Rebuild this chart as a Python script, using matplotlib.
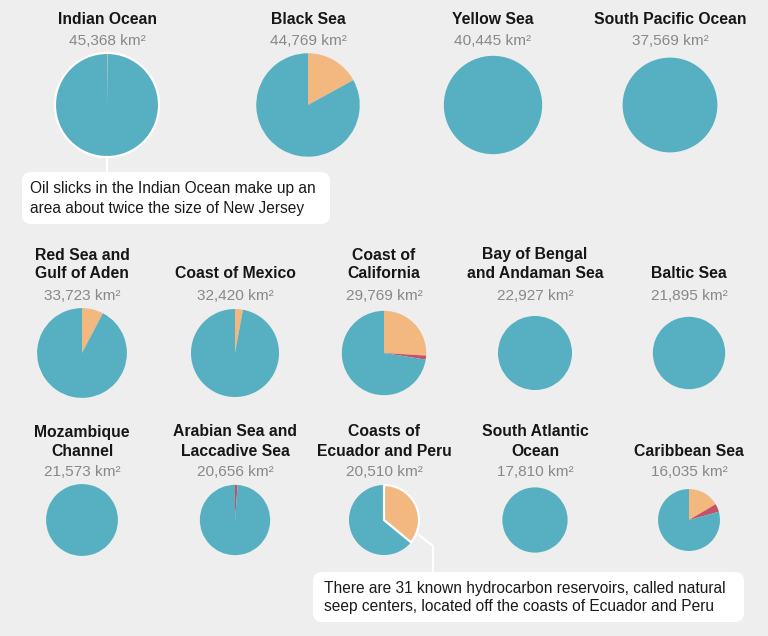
"""
Oil slick area by sea region, drawn as pies sized by total slick area.
"""

import matplotlib
matplotlib.use("Agg")
import matplotlib.pyplot as plt
from matplotlib.patches import FancyBboxPatch, Circle
import numpy as np

W, H = 768, 636

regions = [
    "Indian Ocean", "Black Sea", "Yellow Sea", "South Pacific Ocean",
    "Red Sea and\nGulf of Aden", "Coast of Mexico", "Coast of\nCalifornia",
    "Bay of Bengal\nand Andaman Sea", "Baltic Sea",
    "Mozambique\nChannel", "Arabian Sea and\nLaccadive Sea",
    "Coasts of\nEcuador and Peru", "South Atlantic\nOcean", "Caribbean Sea",
]
area_km2 = [45368, 44769, 40445, 37569,
            33723, 32420, 29769, 22927, 21895,
            21573, 20656, 20510, 17810, 16035]
# share of slick area in percent (the rest is from vessels)
seep_pct = [0.2, 17.0, 0, 0, 7.7, 2.9, 26.0, 0, 0, 0, 0, 36.0, 0, 16.5]
platform_pct = [0, 0, 0, 0, 0, 0, 1.5, 0, 0, 0, 1.2, 0, 0, 4.2]

TEAL = "#57b0c2"
ORANGE = "#f2b87f"
RED = "#c4506b"
BG = "#eeeeee"

# layout (pixel units, y from the top)
row_x = [[107, 308, 493, 670],
         [82, 235, 384, 535, 689],
         [82, 235, 384, 535, 689]]
row_pie_y = [105, 353, 520]
row_title_y = [19, 274, 451]   # centre of the last title line
row_area_y = [41, 296, 472]
scale = 0.2445                 # radius px per sqrt(km2)

fig = plt.figure(figsize=(W / 100, H / 100), dpi=100, facecolor=BG)
ax = fig.add_axes([0, 0, 1, 1])
ax.set_facecolor(BG)

def Y(y):
    return H - y

title_font = dict(family="Liberation Sans", fontsize=11.3, fontweight="bold",
                  color="#161616", ha="center", va="center")
area_font = dict(family="Liberation Sans", fontsize=11.1, color="#888888",
                 ha="center", va="center")
note_font = dict(family="Liberation Sans", fontsize=11.2, color="#1a1a1a",
                 ha="left", va="center")

i = 0
for r, xs in enumerate(row_x):
    for x in xs:
        seep, plat = seep_pct[i], platform_pct[i]
        vals = [seep, plat, 100 - seep - plat]
        rad = scale * np.sqrt(area_km2[i])
        wedges, _ = ax.pie(vals, colors=[ORANGE, RED, TEAL], startangle=90,
                           counterclock=False, radius=rad,
                           center=(x, Y(row_pie_y[r])),
                           wedgeprops=dict(linewidth=0))
        if regions[i] == "Indian Ocean":
            ax.add_patch(Circle((x, Y(row_pie_y[r])), rad, fill=False,
                                ec="white", lw=1.6, zorder=3))
        if regions[i].startswith("Coasts of"):
            wedges[0].set_edgecolor("white")
            wedges[0].set_linewidth(1.6)
            wedges[0].set_zorder(3)

        lines = regions[i].split("\n")
        for k, line in enumerate(reversed(lines)):
            ax.text(x, Y(row_title_y[r] - 19 * k), line, **title_font)
        ax.text(x, Y(row_area_y[r]), f"{area_km2[i]:,} km²", **area_font)
        i += 1

# callouts
ax.plot([107, 107], [Y(157), Y(172)], color="white", lw=1.6, zorder=2)
ax.add_patch(FancyBboxPatch((22, Y(224)), 308, 52,
                            boxstyle="round,pad=0,rounding_size=9",
                            fc="white", ec="none", zorder=2))
ax.text(30, Y(189), "Oil slicks in the Indian Ocean make up an", **note_font, zorder=4)
ax.text(30, Y(209), "area about twice the size of New Jersey", **note_font, zorder=4)

ax.plot([419, 433, 433], [Y(535), Y(546), Y(572)], color="white", lw=1.6, zorder=2)
ax.add_patch(FancyBboxPatch((313, Y(622)), 431, 50,
                            boxstyle="round,pad=0,rounding_size=9",
                            fc="white", ec="none", zorder=2))
ax.text(324, Y(588), "There are 31 known hydrocarbon reservoirs, called natural",
        **note_font, zorder=4)
ax.text(324, Y(607), "seep centers, located off the coasts of Ecuador and Peru",
        **note_font, zorder=4)

ax.set_xlim(0, W)
ax.set_ylim(0, H)
ax.set_aspect("equal")
ax.axis("off")

fig.savefig("out.png", dpi=100, facecolor=BG)
